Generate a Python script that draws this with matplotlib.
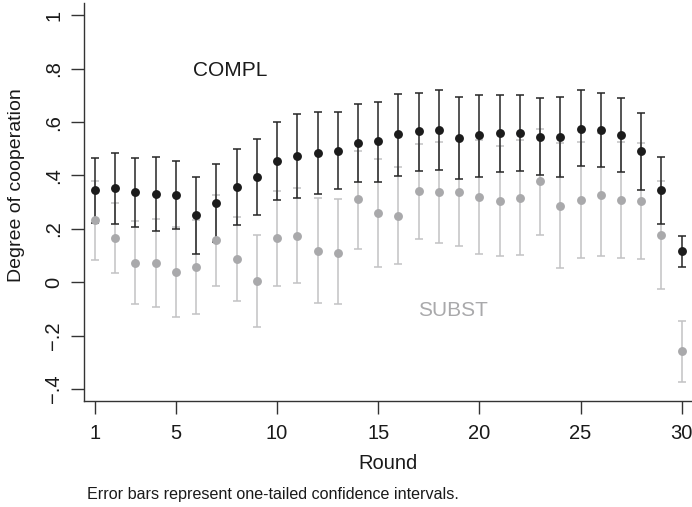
import matplotlib
matplotlib.use("Agg")
import matplotlib.pyplot as plt
import numpy as np

plt.rcParams['font.family'] = ['Liberation Sans', 'DejaVu Sans']

rounds = list(range(1, 31))

compl_mean = [0.344, 0.352, 0.338, 0.329, 0.326, 0.251, 0.297, 0.358, 0.394, 0.456,
              0.473, 0.483, 0.493, 0.523, 0.528, 0.554, 0.567, 0.572, 0.542, 0.550,
              0.558, 0.560, 0.545, 0.545, 0.575, 0.570, 0.552, 0.490, 0.345, 0.117]
compl_hi = [0.467, 0.485, 0.466, 0.470, 0.454, 0.396, 0.444, 0.500, 0.535, 0.602,
            0.630, 0.637, 0.638, 0.669, 0.676, 0.705, 0.710, 0.719, 0.695, 0.701,
            0.703, 0.703, 0.690, 0.694, 0.719, 0.710, 0.690, 0.634, 0.469, 0.175]
compl_lo = [0.221, 0.217, 0.208, 0.191, 0.200, 0.107, 0.150, 0.215, 0.252, 0.308,
            0.317, 0.331, 0.349, 0.377, 0.374, 0.399, 0.418, 0.419, 0.387, 0.396,
            0.413, 0.417, 0.401, 0.396, 0.434, 0.431, 0.412, 0.347, 0.219, 0.057]

subst_mean = [0.233, 0.166, 0.074, 0.071, 0.039, 0.057, 0.157, 0.087, 0.005, 0.165,
              0.175, 0.118, 0.111, 0.311, 0.258, 0.250, 0.341, 0.337, 0.337, 0.319,
              0.303, 0.316, 0.378, 0.286, 0.309, 0.328, 0.309, 0.306, 0.176, -0.259]
subst_hi = [0.381, 0.298, 0.230, 0.236, 0.208, 0.233, 0.327, 0.245, 0.176, 0.343,
            0.352, 0.317, 0.311, 0.492, 0.462, 0.431, 0.518, 0.525, 0.537, 0.533,
            0.510, 0.532, 0.575, 0.520, 0.527, 0.558, 0.525, 0.522, 0.379, -0.146]
subst_lo = [0.082, 0.036, -0.080, -0.092, -0.130, -0.117, -0.014, -0.071, -0.166, -0.014,
            -0.001, -0.076, -0.081, 0.126, 0.056, 0.069, 0.162, 0.147, 0.137, 0.105,
            0.097, 0.101, 0.178, 0.055, 0.092, 0.098, 0.091, 0.088, -0.026, -0.373]

x_ticks = [1, 5, 10, 15, 20, 25, 30]
y_ticks = [-0.4, -0.2, 0, 0.2, 0.4, 0.6, 0.8, 1.0]
y_ticklabels = ['\u2212.4', '\u2212.2', '0', '.2', '.4', '.6', '.8', '1']

BLACK = '#1c1c1c'
BLACK_BAR = '#262626'
GRAY = '#a9a9ab'
GRAY_BAR = '#c2c2c4'

fig = plt.figure(figsize=(6.92, 5.07), dpi=100)
ax = fig.add_axes([84 / 692, 1 - 400.7 / 507, 608 / 692, 397.7 / 507])

cm = np.array(compl_mean)
sm = np.array(subst_mean)
c_err = [cm - np.array(compl_lo), np.array(compl_hi) - cm]
s_err = [sm - np.array(subst_lo), np.array(subst_hi) - sm]

# gray bars underneath
ax.errorbar(rounds, sm, yerr=s_err, fmt='none', ecolor=GRAY_BAR, elinewidth=1.1,
            capsize=3.0, capthick=1.1, zorder=1)
ax.errorbar(rounds, cm, yerr=c_err, fmt='none', ecolor=BLACK_BAR, elinewidth=1.1,
            capsize=3.0, capthick=1.1, zorder=2)
ax.plot(rounds, cm, 'o', color=BLACK, markersize=6.4, markeredgewidth=0, zorder=3)
ax.plot(rounds, sm, 'o', color=GRAY, markersize=6.4, markeredgewidth=0, zorder=4)

ax.set_xlim(0.456, 30.51)
ax.set_ylim(-0.4434, 1.046)

ax.set_xticks(x_ticks)
ax.set_xticklabels([str(t) for t in x_ticks], fontsize=14.5, color='#1a1a1a')
ax.set_yticks(y_ticks)
ax.set_yticklabels(y_ticklabels, fontsize=14.5, rotation=90, va='center', color='#1a1a1a')

for s in ['top', 'right']:
    ax.spines[s].set_visible(False)
for s in ['left', 'bottom']:
    ax.spines[s].set_color('#333333')
    ax.spines[s].set_linewidth(1.0)
ax.tick_params(axis='both', length=9.5, width=1.0, color='#333333')
ax.tick_params(axis='x', pad=7)
ax.tick_params(axis='y', pad=5.5)

ax.set_xlabel('Round', fontsize=14.5, color='#1a1a1a', labelpad=8)
fig.text(17 / 692, 1 - 185 / 507, 'Degree of cooperation', rotation=90, fontsize=14,
         ha='center', va='center', color='#1a1a1a')

ax.text(7.67, 0.793, 'COMPL', fontsize=15, ha='center', va='center', color='#1a1a1a')
ax.text(18.71, -0.104, 'SUBST', fontsize=15, ha='center', va='center', color='#a9a9ab')

fig.text(87 / 692, 1 - 495 / 507, 'Error bars represent one-tailed confidence intervals.',
         fontsize=11.6, ha='left', va='center', color='#1a1a1a')

fig.savefig('out.png', dpi=100)
